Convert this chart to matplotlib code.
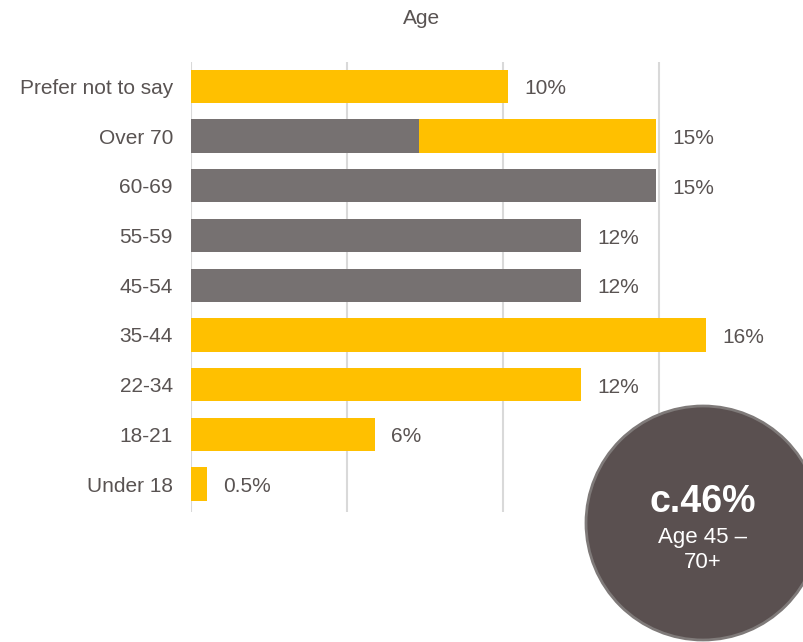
import matplotlib.pyplot as plt
from matplotlib.patches import Ellipse

plt.rcParams['font.family'] = ['Liberation Sans', 'DejaVu Sans']

categories = ["Prefer not to say", "Over 70", "60-69", "55-59", "45-54",
              "35-44", "22-34", "18-21", "Under 18"]
gray_part = [0, 7.3, 14.9, 12.5, 12.5, 0, 0, 0, 0]
yellow_part = [10.15, 7.6, 0, 0, 0, 16.5, 12.5, 5.9, 0.5]
value_labels = ["10%", "15%", "15%", "12%", "12%", "16%", "12%", "6%", "0.5%"]

yellow = "#FFC000"
gray = "#767171"
text_col = "#595352"

fig = plt.figure(figsize=(8.04, 6.42), dpi=100)
ax = fig.add_axes([191 / 804, 1 - 512 / 642, 593 / 804, 450 / 642])

y = range(len(categories))
ax.barh(y, gray_part, height=0.67, color=gray, zorder=3)
ax.barh(y, yellow_part, left=gray_part, height=0.67, color=yellow, zorder=3)

for i, lab in enumerate(value_labels):
    total = gray_part[i] + yellow_part[i]
    ax.text(total + 0.52, i + 0.05, lab, va="center", ha="left",
            fontsize=15, color=text_col)

ax.set_xlim(0, 19)
ax.set_ylim(8.56, -0.49)
ax.set_xticks([0, 5, 10, 15])
ax.set_xticklabels([])
ax.set_yticks(list(y))
ax.set_yticklabels(categories, fontsize=15, color=text_col)
ax.tick_params(length=0, pad=13)
ax.grid(axis="x", color="#d9d9d9", linewidth=1.5, zorder=0)
for s in ["top", "right", "bottom", "left"]:
    ax.spines[s].set_visible(False)

fig.text(422 / 804, 1 - 18 / 642, "Age", ha="center", va="center",
         fontsize=15, color=text_col)

# callout circle
circ = Ellipse((703 / 804, 1 - 523 / 642), 234 / 804, 234 / 642,
               transform=fig.transFigure, facecolor="#5a5050",
               edgecolor="#7f7a79", linewidth=2, zorder=5)
fig.add_artist(circ)
fig.text(703 / 804, 1 - 502 / 642, "c.46%", ha="center", va="center",
         fontsize=27, fontweight="bold", color="white", zorder=6)
fig.text(703 / 804, 1 - 538 / 642, "Age 45 \u2013", ha="center", va="center",
         fontsize=16, color="white", zorder=6)
fig.text(703 / 804, 1 - 562 / 642, "70+", ha="center", va="center",
         fontsize=16, color="white", zorder=6)

fig.savefig("out.png", dpi=100)
